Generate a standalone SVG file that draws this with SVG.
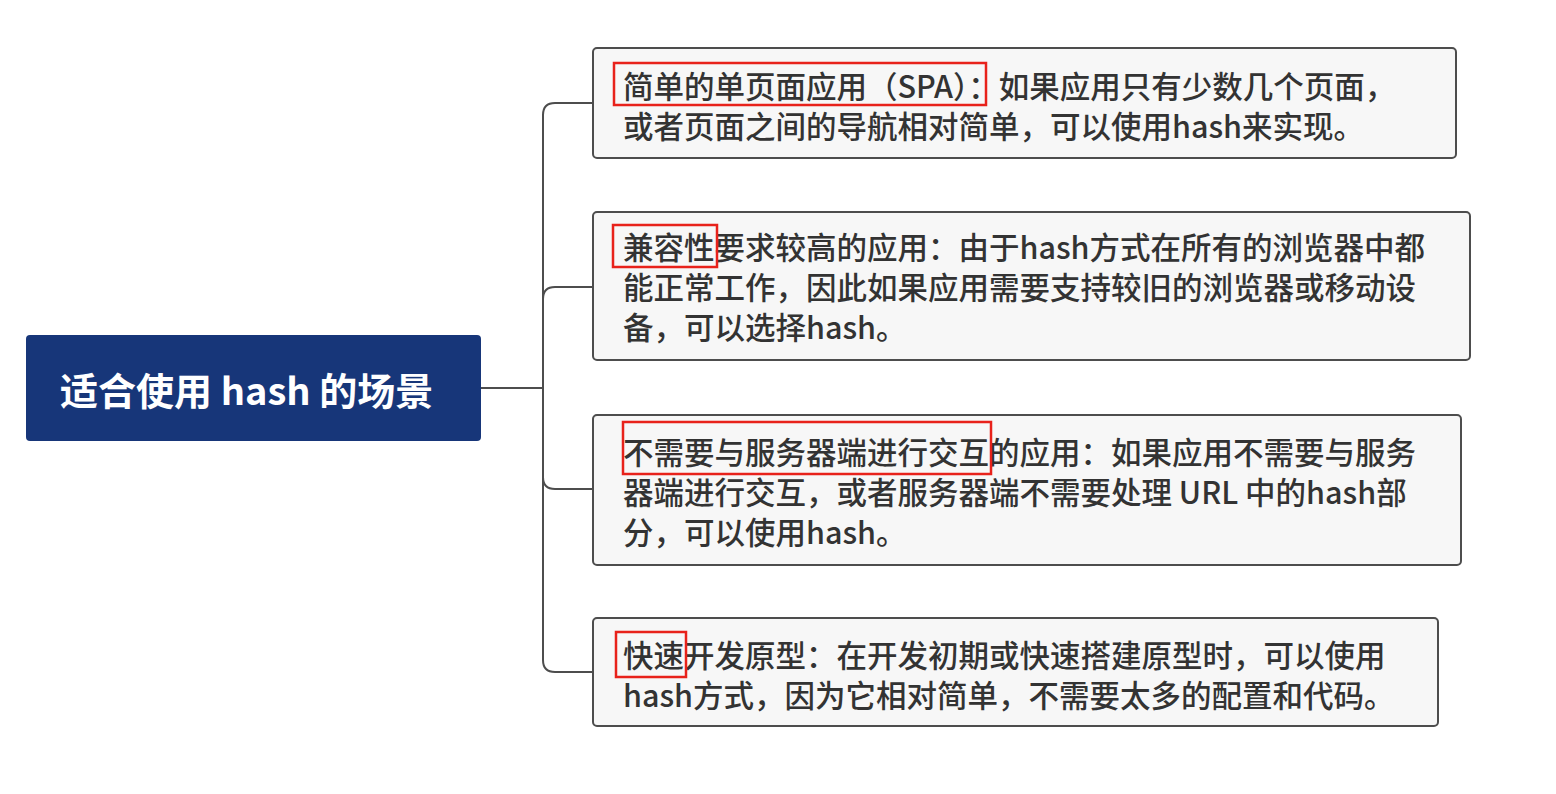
<svg xmlns="http://www.w3.org/2000/svg" width="1556" height="794" viewBox="0 0 1556 794">
<style>
.box{fill:#f7f7f7;stroke:#4d4d4d;stroke-width:2}
.t{font-family:"Noto Sans CJK SC","Open Sans",sans-serif;font-size:30.5px;font-weight:500;fill:#333}
.hl{fill:none;stroke:#e8221b;stroke-width:2.5}
.c{fill:none;stroke:#4d4d4d;stroke-width:2}
</style>
<rect width="1556" height="794" fill="#fff"/>
<g id="connectors">
<path class="c" d="M481 388H543M543 115Q543 103 555 103H594M543 115V660Q543 672 555 672H594M543 299Q543 287 555 287H594M543 477Q543 489 555 489H594"/>
</g>
<g id="root">
<rect x="26" y="335" width="455" height="106" rx="4" fill="#173679"/>
<text x="60" y="405" font-family="Noto Sans CJK SC,Open Sans,sans-serif" font-size="38" font-weight="bold" fill="#fff">适合使用 hash 的场景</text>
</g>
<g id="n1">
<rect class="box" x="593" y="48" width="863" height="110" rx="4"/>
<text class="t" x="623" y="98">简单的单页面应用（SPA）：如果应用只有少数几个页面，</text>
<text class="t" x="623" y="138">或者页面之间的导航相对简单，可以使用hash来实现。</text>
<rect class="hl" x="614" y="63" width="372" height="42"/>
</g>
<g id="n2">
<rect class="box" x="593" y="212" width="877" height="148" rx="4"/>
<text class="t" x="623" y="259">兼容性要求较高的应用：由于hash方式在所有的浏览器中都</text>
<text class="t" x="623" y="299">能正常工作，因此如果应用需要支持较旧的浏览器或移动设</text>
<text class="t" x="623" y="339">备，可以选择hash。</text>
<rect class="hl" x="613" y="225" width="104" height="42"/>
</g>
<g id="n3">
<rect class="box" x="593" y="415" width="868" height="150" rx="4"/>
<text class="t" x="623" y="464">不需要与服务器端进行交互的应用：如果应用不需要与服务</text>
<text class="t" x="623" y="504">器端进行交互，或者服务器端不需要处理 URL 中的hash部</text>
<text class="t" x="623" y="544">分，可以使用hash。</text>
<rect class="hl" x="623" y="422" width="368" height="52"/>
</g>
<g id="n4">
<rect class="box" x="593" y="618" width="845" height="108" rx="4"/>
<text class="t" x="623" y="667">快速开发原型：在开发初期或快速搭建原型时，可以使用</text>
<text class="t" x="623" y="707">hash方式，因为它相对简单，不需要太多的配置和代码。</text>
<rect class="hl" x="616" y="632" width="70" height="45"/>
</g>
</svg>
